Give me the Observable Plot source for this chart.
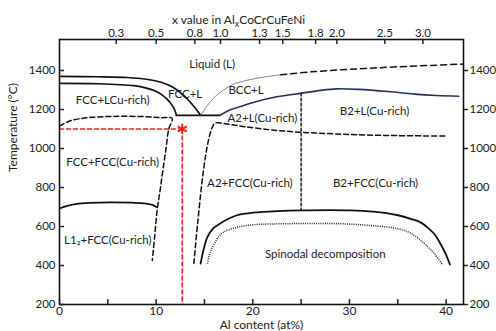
<!DOCTYPE html>
<html><head><meta charset="utf-8">
<script src="https://cdn.jsdelivr.net/npm/d3@7"></script>
<script src="https://cdn.jsdelivr.net/npm/@observablehq/plot@0.6"></script>
<style>body{margin:0;background:#fff;}</style>
</head><body><div id="chart"></div>
<script>
// ---- data: [Al at%, Temperature °C] ----
const liquidusFCC = [[0,1370],[4,1368],[7,1364],[9,1355],[10.5,1340],[11.7,1315],[12.6,1282],[13.4,1245],[14.0,1210],[14.6,1170]];
const solidusFCC = [[0,1334],[4,1332],[7.7,1322],[9.0,1310],[9.8,1297],[10.6,1275],[11.1,1254],[11.6,1225],[11.9,1200],[12.1,1170]];
const eutecticLine = [[12.1,1170],[16.6,1170]];
const liquidusBCC = [[14.6,1170],[15.3,1220],[16.0,1262],[16.9,1297],[18.0,1330],[19.4,1350],[21.0,1365],[22.9,1378]];
const liquidusHigh = [[22.9,1378],[26,1393],[30,1406],[35,1419],[41.8,1433]];
const b2Liquidus = [[16.6,1170],[17.5,1195],[18.7,1215],[20.3,1240],[22.5,1265],[25.1,1284],[27,1298],[28.7,1306],[31,1303],[34,1292],[36.7,1279],[39,1272],[41.3,1268]];
const fccSolvus = [[0,1115],[1,1140],[2,1152],[3.5,1160],[6,1165],[9,1163],[10.5,1158],[11.65,1154],[11.3,1100],[11.05,1010],[10.8,925],[10.45,800],[10.1,682],[9.85,550],[9.6,426]];
const a2Solvus = [[13.9,410],[14.3,620],[14.9,890],[15.45,1050],[15.8,1108],[16.1,1130],[17.5,1124],[19.2,1112],[22,1095],[25.1,1083],[30,1072],[35,1066],[40.1,1064]];
const a2b2Line = [[25,1284],[25,683]];
const l12Solvus = [[0,692],[0.8,706],[1.8,716],[3,721],[5.3,724],[7.5,722],[8.7,719],[9.6,711],[10.1,698]];
const miscibility = [[14.6,410],[14.9,480],[15.3,545],[15.9,590],[16.7,618],[17.7,645],[18.7,662],[20,671],[22.5,679],[25.1,683],[30.1,683],[32.5,676],[34.9,659],[36.5,637],[37.4,620],[38.0,598],[38.8,560],[39.4,513],[40.0,455],[40.4,405]];
const spinodal = [[15.3,410],[15.6,470],[16.0,510],[16.5,550],[17.0,572],[18.4,596],[19.8,608],[22,613],[25,615],[29.1,614],[32,606],[34.9,590],[36.3,567],[37.7,515],[38.8,460],[39.6,405]];
const markerX = [12.7];
const markerT = [1100];
const guideH = [[0,1100],[12.7,1100]];
const guideV = [[12.7,1100],[12.7,200]];

const regionNames = ["Liquid (L)","FCC+LCu-rich)","FCC+L","BCC+L","A2+L(Cu-rich)","B2+L(Cu-rich)","FCC+FCC(Cu-rich)","A2+FCC(Cu-rich)","B2+FCC(Cu-rich)","L1\u2082+FCC(Cu-rich)","Spinodal decomposition"];
const regionX = [15.8,5.5,13.0,19.3,21.0,32.6,5.5,19.7,32.7,5.0,27.5];
const regionT = [1434,1246,1277,1297,1156,1191,928,819,819,528,455];

const bottomTickLabels = [0,10,20,30,40];
const bottomMinorTicks = [0,5,10,15,20,25,30,35,40];
const yTicks = [200,400,600,800,1000,1200,1400];
const topTickLabels = ["0.3","0.5","0.8","1.0","1.3","1.5","1.8","2.0","2.5","3.0"];
const topTickPos = [5.87,10.0,14.0,16.66,20.7,23.1,26.5,28.7,33.66,37.6];

const topMap = new Map(topTickPos.map((p,i)=>[p, topTickLabels[i]]));
const labels = regionNames.map((n,i)=>({n, x: regionX[i], t: regionT[i]}));
const X = d=>d[0], Y = d=>d[1];
const ink = "#111";
const fs = 11.5;

const chart = Plot.plot({
  width: 496, height: 331,
  marginLeft: 59, marginRight: 33, marginTop: 39, marginBottom: 27,
  style: {fontFamily: "Lato, sans-serif", fontSize: "11.5px", color: "#222", background: "#fff"},
  x: {domain: [0, 41.8], axis: null},
  y: {domain: [200, 1559], axis: null},
  marks: [
    Plot.line(guideH, {x: X, y: Y, stroke: "#ff1a1a", strokeWidth: 1.6, strokeDasharray: "4,3"}),
    Plot.line(guideV, {x: X, y: Y, stroke: "#ff1a1a", strokeWidth: 1.6, strokeDasharray: "4,3"}),
    Plot.line(liquidusFCC, {x: X, y: Y, stroke: ink, strokeWidth: 1.7, curve: "catmull-rom"}),
    Plot.line(solidusFCC, {x: X, y: Y, stroke: ink, strokeWidth: 1.7, curve: "catmull-rom"}),
    Plot.line(eutecticLine, {x: X, y: Y, stroke: ink, strokeWidth: 1.7}),
    Plot.line(liquidusBCC, {x: X, y: Y, stroke: "#666", strokeWidth: 0.8, curve: "catmull-rom"}),
    Plot.line(liquidusHigh, {x: X, y: Y, stroke: ink, strokeWidth: 1.5, strokeDasharray: "6,4", curve: "catmull-rom"}),
    Plot.line(b2Liquidus, {x: X, y: Y, stroke: "#24335e", strokeWidth: 1.6, curve: "catmull-rom"}),
    Plot.line(fccSolvus, {x: X, y: Y, stroke: ink, strokeWidth: 1.5, strokeDasharray: "5,3", curve: "catmull-rom"}),
    Plot.line(a2Solvus, {x: X, y: Y, stroke: ink, strokeWidth: 1.5, strokeDasharray: "5,3", curve: "catmull-rom"}),
    Plot.line(a2b2Line, {x: X, y: Y, stroke: ink, strokeWidth: 1.4, strokeDasharray: "3,2"}),
    Plot.line(l12Solvus, {x: X, y: Y, stroke: ink, strokeWidth: 1.7, curve: "catmull-rom"}),
    Plot.line(miscibility, {x: X, y: Y, stroke: ink, strokeWidth: 1.8, curve: "catmull-rom"}),
    Plot.line(spinodal, {x: X, y: Y, stroke: "#222", strokeWidth: 1.5, strokeDasharray: "1,1.2", strokeLinecap: "butt", curve: "catmull-rom"}),
    Plot.dot(markerX.map((x,i)=>[x, markerT[i]]), {x: X, y: Y, symbol: "asterisk", r: 5, stroke: "#ff1a1a", strokeWidth: 1.8}),
    Plot.text(labels, {x: "x", y: "t", text: "n", fontSize: fs, fill: "#222"}),
    Plot.frame({stroke: ink, strokeWidth: 1.6}),
    Plot.axisX(bottomMinorTicks, {anchor: "bottom", tickSize: -5, fill: "none", label: null, strokeWidth: 1.5}),
    Plot.axisX(bottomTickLabels, {anchor: "bottom", tickSize: 0, tickPadding: 2, label: null, fontSize: 12, tickFormat: "d"}),
    Plot.axisX(topTickPos, {anchor: "top", tickSize: -4, fill: "none", label: null, strokeWidth: 1.5}),
    Plot.axisX(topTickPos, {anchor: "top", tickSize: 0, tickPadding: 3, label: null, fontSize: fs, tickFormat: d => topMap.get(d)}),
    Plot.axisY(yTicks, {anchor: "left", tickSize: -5, fill: "none", label: null, strokeWidth: 1.5}),
    Plot.axisY(yTicks, {anchor: "left", tickSize: 0, tickPadding: 4, label: null, fontSize: 11.5, tickFormat: "d"}),
    Plot.axisY(yTicks, {anchor: "right", tickSize: 4, tickPadding: 2, label: null, fontSize: 11.5, strokeWidth: 1.5, tickFormat: "d"}),
    Plot.text(["x value in AlxCoCrCuFeNi"], {text: d=>d, frameAnchor: "top", dx: -23, dy: -24, fontSize: 12, fill: "#222"}),
    Plot.text(["Temperature (\u00B0C)"], {text: d=>d, frameAnchor: "left", dx: -46, rotate: -90, fontSize: 12, fill: "#222"}),
    Plot.text(["Al content (at%)"], {text: d=>d, frameAnchor: "bottom", dy: 24, fontSize: 12, fill: "#222"})
  ]
});
document.getElementById("chart").appendChild(chart);
d3.select(chart).selectAll("text").filter(function(){return this.textContent === "x value in AlxCoCrCuFeNi";})
  .each(function(){
    const t = d3.select(this);
    t.text(null);
    t.append("tspan").text("x value in Al");
    t.append("tspan").attr("dy", 3).attr("font-size", 9).text("x");
    t.append("tspan").attr("dy", -3).text("CoCrCuFeNi");
  });
</script>
</body></html>
